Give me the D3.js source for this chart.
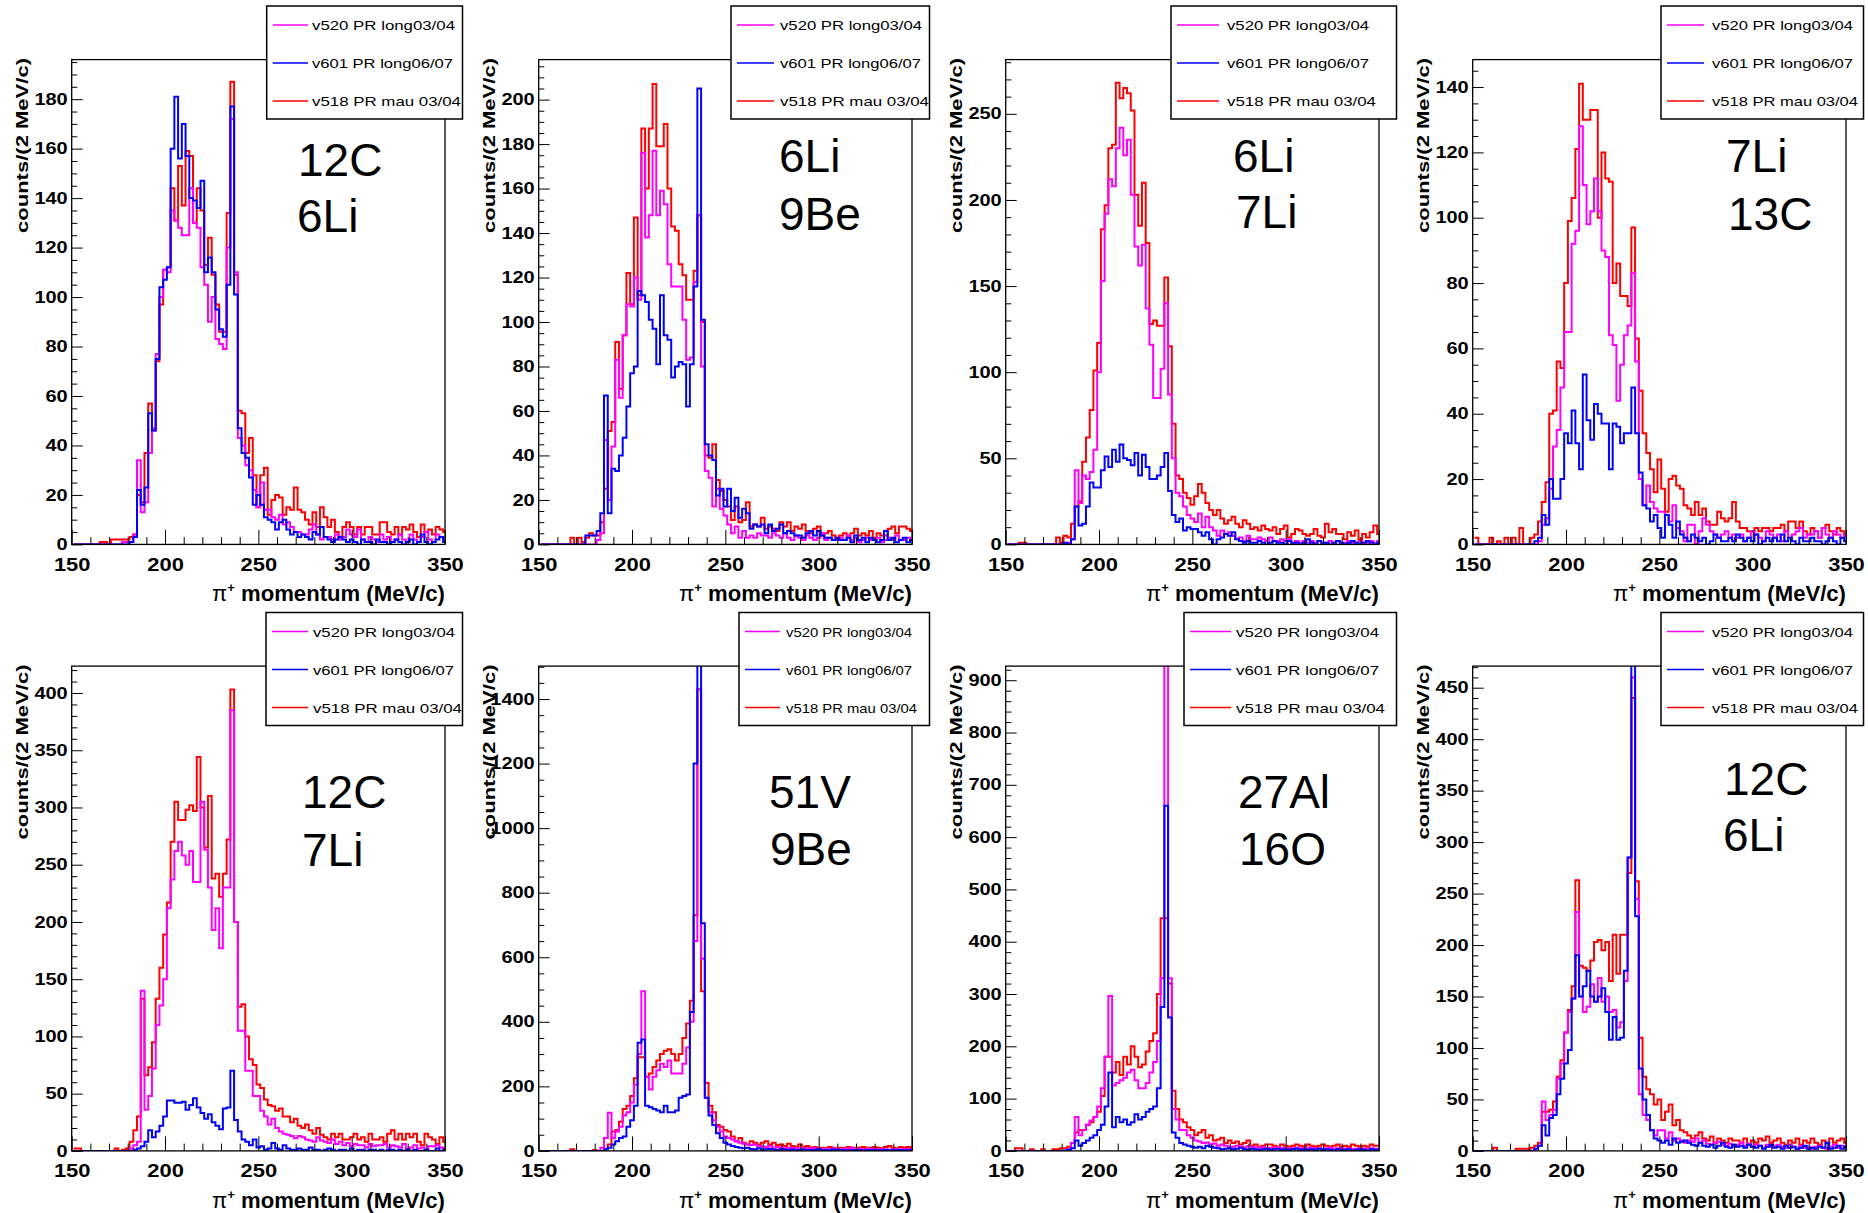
<!DOCTYPE html>
<html><head><meta charset="utf-8">
<script src="https://cdn.jsdelivr.net/npm/d3@7"></script>
<style>body{margin:0;background:#fff}</style>
</head><body>
<svg id="chart" width="1868" height="1213"></svg>
<script>
// ---------------- DATA ----------------
const BIN_START = 151;
const BIN_WIDTH = 2;
const xTickValues = [150, 200, 250, 300, 350];
const seriesNames = ["v520 PR long03/04", "v601 PR long06/07", "v518 PR mau 03/04"];
const panelTargets = [["12C","6Li"],["6Li","9Be"],["6Li","7Li"],["7Li","13C"],["12C","7Li"],["51V","9Be"],["27Al","16O"],["12C","6Li"]];
const panelYMax = [196, 218, 281.5, 148.4, 423.5, 1502, 927, 471];
const panelYMajorStep = [20, 20, 50, 20, 50, 200, 100, 50];
const panelYMinorStep = [5, 5, 10, 5, 10, 50, 20, 10];

// Panel 1: 12C / 6Li
const p1_v520 = [0,0,0,0,0,0,0,0,0,0, 0,0,0,1,1,1,4,34,13,17, 37,47,77,100,111,110,135,131,128,125, 125,144,130,128,112,105,90,100,83,81, 79,120,172,110,43,40,32,30,22,15, 25,14,14,11,10,12,8,9,7,5, 5,4,4,6,8,4,2,3,3,2, 4,2,3,6,4,3,6,2,1,3, 2,1,4,2,3,1,2,4,2,1, 4,2,1,3,5,2,1,4,3,2];
const p1_v601 = [0,0,0,0,0,0,0,0,0,0, 0,0,0,0,0,1,3,22,16,23, 53,46,75,104,107,112,160,181,156,170, 157,140,139,136,147,110,116,110,95,87, 84,105,177,101,47,37,35,27,16,20, 16,11,10,9,6,9,10,6,4,5, 3,4,3,2,5,4,7,3,2,1, 2,3,2,1,2,1,0,2,1,1, 0,2,1,1,0,1,2,1,0,1, 2,0,1,4,1,0,1,2,3,1];
const p1_v518 = [0,0,0,0,0,0,0,1,1,0, 2,2,2,2,2,3,4,20,17,37, 57,46,74,97,111,112,144,131,153,137, 159,157,130,144,135,113,124,109,97,86, 86,134,187,109,54,53,37,43,28,15, 28,31,12,18,20,19,12,15,14,23, 14,13,10,8,13,7,15,11,7,10, 5,3,7,9,7,4,7,4,7,7, 4,4,9,9,5,4,7,4,7,6, 8,5,3,8,5,6,4,7,6,5];

// Panel 2: 6Li / 9Be
const p2_v520 = [0,0,0,0,0,0,0,0,0,0, 0,0,0,0,0,2,5,47,20,44, 83,66,94,108,107,120,110,176,138,148, 177,148,159,153,126,116,116,116,101,83, 84,118,148,80,33,30,17,25,16,13, 9,5,8,3,6,3,4,3,5,4, 4,3,5,4,3,5,3,2,4,3, 2,4,3,2,3,5,2,3,2,2, 3,2,4,2,3,1,2,3,2,2, 3,1,2,3,2,4,2,2,3,2];
const p2_v601 = [0,0,0,0,0,0,0,0,0,0, 0,0,4,4,4,6,14,67,14,34, 33,40,48,62,77,80,114,112,109,101, 97,81,112,94,92,75,80,82,81,62, 81,116,205,101,45,40,38,22,25,17, 25,15,21,12,16,14,7,9,8,9, 5,9,6,7,9,5,6,5,4,4, 3,5,6,4,6,4,3,3,2,3, 2,2,3,1,4,2,3,1,3,2, 1,2,6,2,3,1,2,3,1,2];
const p2_v518 = [0,0,0,0,0,0,0,0,3,0, 3,1,3,5,4,4,10,25,51,55, 91,70,94,122,108,147,112,187,160,187, 207,179,179,189,160,143,141,126,121,110, 110,123,148,100,40,39,45,29,24,20, 17,11,17,10,11,19,8,9,8,12, 7,8,7,6,10,8,10,6,8,7, 9,6,5,7,8,4,5,6,4,3, 4,5,4,5,7,4,5,4,6,3, 5,4,4,7,8,5,8,8,7,6];

// Panel 3: 6Li / 7Li
const p3_v520 = [0,0,0,0,0,0,0,0,0,0, 0,0,0,0,0,0,1,3,43,24, 40,38,42,55,100,153,192,212,208,230, 242,226,235,203,173,162,174,137,116,85, 85,102,140,87,50,30,28,22,17,15, 13,18,10,16,10,8,5,8,6,7, 5,3,4,2,5,3,3,4,3,2, 4,2,2,3,2,3,1,2,1,2, 1,2,1,2,1,1,2,1,2,1, 1,2,1,1,2,1,1,2,1,2];
const p3_v601 = [0,0,0,0,0,0,0,0,0,0, 0,0,0,0,0,1,0,3,22,11, 12,22,36,33,33,43,51,45,55,48, 58,50,49,46,53,40,52,45,38,38, 40,45,53,31,17,13,15,8,10,9, 9,7,5,7,3,0,3,4,6,5, 7,3,2,1,2,1,1,2,1,0, 1,2,1,1,0,2,1,1,0,1, 3,1,0,2,1,1,0,1,2,1, 0,1,2,1,0,1,2,1,0,1];
const p3_v518 = [0,0,0,1,1,0,0,0,0,0, 0,0,0,4,1,5,4,12,22,25, 48,62,78,101,117,183,197,230,232,268, 259,265,262,252,203,185,210,175,128,130, 127,127,155,115,70,40,38,30,27,23, 28,35,30,24,20,17,20,15,12,14, 16,12,10,14,12,9,10,8,11,9, 8,10,6,9,11,4,6,9,8,6, 5,6,9,5,4,12,7,9,6,6, 3,7,5,8,3,6,4,7,11,6];

// Panel 4: 7Li / 13C
const p4_v520 = [0,0,0,0,0,0,0,0,0,0, 0,0,0,0,0,0,0,1,6,8, 17,30,35,48,65,65,92,96,128,110, 98,102,112,102,90,88,64,61,44,55, 64,67,83,56,20,12,18,13,11,10, 10,9,7,12,5,4,1,6,6,0, 4,8,6,4,3,2,3,4,2,3, 2,3,1,2,4,3,2,1,4,3, 2,3,1,4,2,3,4,5,2,3, 3,4,2,5,3,2,4,3,2,3];
const p4_v601 = [0,0,0,0,0,0,0,0,0,0, 0,0,0,0,0,0,1,2,9,6, 20,14,14,20,34,31,41,31,23,52, 38,32,43,40,37,37,23,37,36,31, 34,34,48,34,22,12,11,7,9,5, 2,9,6,2,7,3,2,1,3,2, 1,2,0,1,3,2,1,1,2,1, 3,2,1,2,1,3,0,1,2,1, 2,1,3,1,2,1,0,2,1,1, 2,1,1,0,1,2,1,0,2,1];
const p4_v518 = [2,0,0,0,2,0,1,0,2,0, 2,0,5,0,0,2,3,7,13,19, 40,41,56,54,80,99,106,121,141,130, 130,133,133,100,120,112,111,80,86,76, 76,73,97,63,47,34,28,23,16,26, 17,10,20,21,18,17,12,11,9,13, 9,11,7,6,6,10,8,7,8,13, 7,5,5,4,4,5,4,5,5,4, 5,5,6,4,7,7,5,7,4,3, 5,4,2,5,6,4,3,5,4,3];

// Panel 5: 12C / 7Li
const p5_v520 = [0,0,0,0,0,0,0,0,0,0, 0,0,0,0,0,2,5,8,140,36, 48,72,110,127,150,212,237,262,270,258, 250,262,235,235,305,263,230,193,212,177, 230,230,385,200,105,105,70,70,48,48, 35,30,23,28,20,17,15,14,13,11, 13,12,10,9,8,12,9,8,7,10, 6,8,5,7,4,6,5,5,3,6, 4,5,5,6,3,5,4,3,6,2, 3,5,2,3,1,4,4,5,3,2];
const p5_v601 = [0,0,0,0,0,0,0,0,0,0, 0,0,0,0,0,0,1,2,4,8, 18,12,17,22,30,44,44,42,42,43, 36,40,46,38,33,28,32,25,22,19, 37,38,70,27,17,10,8,5,10,3, 4,1,2,7,2,1,5,2,1,1, 2,1,1,3,1,1,0,1,2,1, 0,1,1,0,2,0,1,1,0,1, 1,0,1,0,1,1,0,1,0,1, 0,1,0,0,1,0,0,2,0,1];
const p5_v518 = [2,2,0,0,0,0,0,0,0,0, 0,2,0,1,2,8,18,30,133,66, 73,95,133,160,189,217,270,305,289,289, 298,302,297,344,300,265,310,238,242,222, 242,272,403,200,126,128,100,80,75,58, 55,45,40,39,35,37,30,30,25,28, 22,20,23,18,15,20,14,12,10,15, 12,15,10,10,12,15,10,12,8,15, 10,10,12,8,15,18,10,15,10,15, 12,15,8,5,15,12,10,6,12,8];

// Panel 6: 51V / 9Be
const p6_v520 = [0,0,0,0,0,0,0,0,0,0, 0,0,0,0,0,0,10,40,118,40, 60,75,110,120,150,205,300,495,230,190, 230,250,270,260,280,240,240,240,270,320, 400,650,1430,595,165,120,95,75,60,45, 40,35,30,25,22,20,18,20,15,14, 12,15,10,12,10,8,10,9,8,10, 7,8,6,9,5,7,6,5,8,6, 5,7,6,10,5,6,4,5,7,5, 4,6,5,3,6,5,4,5,6,4];
const p6_v601 = [0,0,0,0,0,0,0,0,0,0, 0,0,0,0,0,0,0,5,10,20, 30,40,45,75,95,140,335,345,140,135, 130,125,120,140,120,120,125,165,170,175, 430,1200,1600,705,165,110,80,55,40,25, 20,15,12,10,8,10,6,5,8,4, 5,6,4,3,5,4,3,4,2,3, 4,3,2,3,5,2,3,2,4,2, 3,2,1,3,2,3,1,2,3,2, 2,1,3,2,1,2,3,1,2,2];
const p6_v518 = [0,0,0,0,0,0,0,0,5,0, 0,0,0,0,3,0,0,5,20,60, 65,90,130,140,170,225,290,290,230,240, 260,280,300,310,315,300,280,300,350,395, 465,730,1430,495,210,140,120,80,75,65, 60,45,30,40,25,20,30,25,20,25, 30,20,25,18,20,15,22,15,12,20, 12,15,10,12,8,10,8,12,10,8, 10,8,12,10,8,10,12,8,10,12, 10,8,12,15,10,8,12,10,12,10];

// Panel 7: 27Al / 16O
const p7_v520 = [0,0,0,0,0,0,0,0,0,0, 0,0,0,0,0,0,3,15,65,30, 40,50,58,65,85,120,180,296,125,130, 135,140,150,155,135,120,120,130,150,170, 210,330,1000,330,80,60,40,40,30,25, 20,18,15,16,12,14,10,12,10,8, 8,10,8,6,9,8,7,6,7,5, 6,5,7,5,6,4,5,6,5,4, 5,6,4,5,4,5,6,4,5,3, 4,5,3,4,5,4,3,5,4,3];
const p7_v601 = [0,0,0,0,0,0,0,0,0,0, 0,0,0,0,0,1,2,5,20,10, 15,20,25,30,40,50,85,150,45,65, 55,60,50,55,70,60,65,75,80,85, 120,275,660,255,35,25,15,12,10,8, 6,8,5,10,8,6,5,3,4,5, 3,4,6,3,2,4,3,2,3,4, 2,3,4,2,3,2,3,4,2,3, 2,3,2,4,2,3,2,1,3,2, 2,3,1,2,3,2,1,3,2,2];
const p7_v518 = [0,0,5,5,0,0,3,0,0,3, 0,0,3,3,5,5,8,15,35,40, 40,50,55,65,75,105,180,180,150,170, 145,180,165,200,180,160,165,190,210,225, 300,445,445,320,115,80,60,55,45,40, 30,35,40,25,30,20,22,25,15,20, 15,18,12,15,20,10,12,8,10,12, 12,10,8,12,10,8,10,12,10,8, 12,10,8,10,12,10,8,10,12,8, 10,8,12,10,8,10,8,12,10,10];

// Panel 8: 12C / 6Li
const p8_v520 = [0,0,0,0,0,0,0,0,0,0, 0,0,0,0,0,0,2,5,48,30, 35,40,70,85,115,135,148,232,150,135, 140,162,145,168,145,150,135,137,120,125, 165,285,460,245,55,35,30,20,15,20, 20,12,18,10,12,10,8,10,9,12, 8,10,7,6,8,9,6,5,7,4, 6,8,5,7,4,6,5,3,6,4, 5,6,4,3,6,4,2,5,3,4, 2,4,5,3,2,4,6,3,5,3];
const p8_v601 = [0,0,0,0,0,0,0,0,0,0, 0,0,0,0,0,0,2,5,25,15, 32,35,55,70,85,98,148,190,150,160, 175,150,145,150,158,135,108,130,108,110, 175,285,520,228,80,50,35,20,12,10, 8,10,6,12,8,9,10,8,6,5, 8,5,4,6,3,5,8,4,3,6, 4,5,3,6,4,3,5,2,4,6, 3,4,2,5,3,4,2,3,5,2, 3,2,4,3,8,2,3,5,2,4];
const p8_v518 = [0,0,0,0,0,3,0,0,0,0, 0,2,2,2,2,3,5,8,38,38, 40,48,72,88,115,137,160,263,180,178, 175,185,203,205,195,203,165,210,172,210, 210,270,440,262,110,72,60,55,45,50, 30,38,45,25,30,20,18,15,12,15, 18,12,10,14,8,12,10,8,12,10, 10,8,12,6,10,8,12,10,14,8, 10,12,8,6,10,8,12,6,10,8, 12,8,6,10,8,12,8,10,12,8];

// ---------------- LAYOUT / STYLE ----------------
const panelSeries = [
  [p1_v520, p1_v601, p1_v518], [p2_v520, p2_v601, p2_v518],
  [p3_v520, p3_v601, p3_v518], [p4_v520, p4_v601, p4_v518],
  [p5_v520, p5_v601, p5_v518], [p6_v520, p6_v601, p6_v518],
  [p7_v520, p7_v601, p7_v518], [p8_v520, p8_v601, p8_v518]
];
const seriesColors = ["#ff00ff", "#0000ff", "#ff0000"];
const drawOrder = [2, 0, 1];
const CELL_W = 467, CELL_H = 606.5;
const FL = 71.7, FR = 445, FT = 59.6, FB = 544.4;
const FONT = "'Liberation Sans', Arial, Helvetica, sans-serif";
const legendLeft = [266.7, 264, 237, 260, 266, 272, 250, 260];
const legendLineEnd = [308, 307, 285, 303, 308, 313, 297, 303];
const legendTextX = [312, 313, 293, 311, 313, 319, 302, 311];
const legendTextLen = [[143,141,149],[142,141,149],[142,142,149],[141,141,146],[142,141,149],[126,126,131],[143,143,149],[141,141,146]];
const labelPos = [
  [[298,176],[297,232]], [[312,172],[312,230]], [[299,172],[302,228]], [[325,172],[327,230]],
  [[302,201],[302,259]], [[302,201],[303,258]], [[304,201],[305,258]], [[323,188],[322,244]]
];

const svg = d3.select("#chart");
svg.append("rect").attr("width", 1868).attr("height", 1213).attr("fill", "#fff");
const defs = svg.append("defs");

panelSeries.forEach((series, i) => {
  const c = i % 4, r = Math.floor(i / 4);
  const g = svg.append("g").attr("transform", `translate(${c * CELL_W},${r * CELL_H})`);
  const ymax = panelYMax[i];
  const x = d3.scaleLinear().domain([150, 350]).range([FL, FR]);
  const y = d3.scaleLinear().domain([0, ymax]).range([FB, FT]);

  defs.append("clipPath").attr("id", "clip" + i)
    .append("rect").attr("x", FL).attr("y", FT).attr("width", FR - FL).attr("height", FB - FT);

  // histograms
  const line = d3.line().curve(d3.curveStepAfter);
  const hg = g.append("g").attr("clip-path", `url(#clip${i})`);
  drawOrder.forEach(s => {
    const vals = series[s];
    const pts = vals.map((v, k) => [x(BIN_START + k * BIN_WIDTH), y(v)]);
    pts.push([x(BIN_START + vals.length * BIN_WIDTH), y(vals[vals.length - 1])]);
    hg.append("path").attr("d", line(pts)).attr("fill", "none")
      .attr("stroke", seriesColors[s]).attr("stroke-width", 2);
  });

  // y axis
  const maj = panelYMajorStep[i], mnr = panelYMinorStep[i];
  const majors = d3.range(0, ymax + 1e-6, maj);
  const minors = d3.range(0, ymax + 1e-6, mnr).filter(v => Math.abs(v / maj - Math.round(v / maj)) > 1e-6);
  const yAx = g.append("g").attr("transform", `translate(${FL},0)`)
    .call(d3.axisLeft(y).tickValues(majors).tickSize(-11).tickPadding(4).tickFormat(d3.format("d")));
  yAx.select(".domain").remove();
  yAx.selectAll("line").attr("stroke", "#000");
  yAx.selectAll("text").attr("font-family", FONT).attr("font-size", 16).attr("font-weight", "bold").attr("fill", "#000")
    .each(function(d){ const t = d3.format("d")(d); d3.select(this).attr("textLength", t.length * 11.1).attr("lengthAdjust", "spacingAndGlyphs"); });
  const yAxm = g.append("g").attr("transform", `translate(${FL},0)`)
    .call(d3.axisLeft(y).tickValues(minors).tickSize(-5.6).tickFormat(""));
  yAxm.select(".domain").remove();
  yAxm.selectAll("line").attr("stroke", "#000");

  // x axis
  const xMinors = d3.range(150, 351, 10).filter(v => v % 50 !== 0);
  const xAx = g.append("g").attr("transform", `translate(0,${FB})`)
    .call(d3.axisBottom(x).tickValues(xTickValues).tickSize(-14.5).tickPadding(12.8).tickFormat(d3.format("d")));
  xAx.select(".domain").remove();
  xAx.selectAll("line").attr("stroke", "#000");
  xAx.selectAll("text").attr("font-family", FONT).attr("font-size", 19).attr("font-weight", "bold").attr("fill", "#000")
    .each(function(d){ const t = String(d); d3.select(this).attr("textLength", t.length * 12.2).attr("lengthAdjust", "spacingAndGlyphs"); });
  const xAxm = g.append("g").attr("transform", `translate(0,${FB})`)
    .call(d3.axisBottom(x).tickValues(xMinors).tickSize(-7.3).tickFormat(""));
  xAxm.select(".domain").remove();
  xAxm.selectAll("line").attr("stroke", "#000");

  // frame
  g.append("rect").attr("x", FL).attr("y", FT).attr("width", FR - FL).attr("height", FB - FT)
    .attr("fill", "none").attr("stroke", "#000").attr("stroke-width", 1.3);

  // axis titles
  const xt = g.append("text").attr("x", FR).attr("y", 601).attr("text-anchor", "end")
    .attr("font-family", FONT).attr("font-size", 22).attr("font-weight", "bold").attr("fill", "#000")
    .attr("textLength", 233).attr("lengthAdjust", "spacingAndGlyphs");
  xt.append("tspan").attr("font-weight", "normal").text("π");
  xt.append("tspan").attr("font-size", 13).attr("dy", -9).text("+");
  xt.append("tspan").attr("dy", 9).text(" momentum (MeV/c)");

  g.append("text").attr("transform", "translate(28,58) rotate(-90)").attr("text-anchor", "end")
    .attr("font-family", FONT).attr("font-size", 16).attr("font-weight", "bold").attr("fill", "#000")
    .attr("textLength", 175).attr("lengthAdjust", "spacingAndGlyphs")
    .text("counts/(2 MeV/c)");

  // target labels
  panelTargets[i].forEach((t, k) => {
    g.append("text").attr("x", labelPos[i][k][0]).attr("y", labelPos[i][k][1])
      .attr("font-family", FONT).attr("font-size", 46).attr("fill", "#000").text(t);
  });

  // legend
  const lx = legendLeft[i];
  g.append("rect").attr("x", lx).attr("y", 6).attr("width", 462.5 - lx).attr("height", 113)
    .attr("fill", "#fff").attr("stroke", "#000").attr("stroke-width", 1.5);
  const rowsY = [25, 63, 101];
  seriesNames.forEach((name, s) => {
    g.append("line").attr("x1", lx + 6).attr("x2", legendLineEnd[i]).attr("y1", rowsY[s]).attr("y2", rowsY[s])
      .attr("stroke", seriesColors[s]).attr("stroke-width", 1.3);
    g.append("text").attr("x", legendTextX[i]).attr("y", rowsY[s] + 5)
      .attr("font-family", FONT).attr("font-size", 13.5).attr("fill", "#000")
      .attr("textLength", legendTextLen[i][s]).attr("lengthAdjust", "spacingAndGlyphs")
      .text(name);
  });
});
</script>
</body></html>
